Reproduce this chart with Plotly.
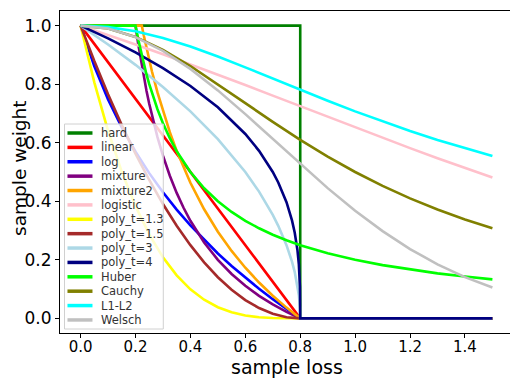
import plotly.graph_objects as go

# sample loss / sample weight curves (lambda = 0.8)
hard_x = [0, 0.8, 0.8, 1.5]
hard_y = [1, 1, 0, 0]

linear_x = [0, 0.8, 1.5]
linear_y = [1, 0, 0]

log_x = [0, 0.025, 0.05, 0.1, 0.15, 0.2, 0.25, 0.3, 0.35, 0.4, 0.45, 0.5, 0.55, 0.6, 0.65, 0.7, 0.75, 0.8, 1.5]
log_y = [1, 0.9269, 0.8614, 0.7481, 0.6523, 0.5693, 0.4961, 0.4307, 0.3715, 0.3174, 0.2677, 0.2216,
         0.1788, 0.1386, 0.1010, 0.0655, 0.0319, 0, 0]

mixture_x = [0, 0.2, 0.21, 0.22, 0.23, 0.24, 0.25, 0.265, 0.28, 0.3, 0.325, 0.35, 0.375, 0.4, 0.45, 0.5,
             0.55, 0.6, 0.65, 0.7, 0.75, 0.8, 1.5]
mixture_y = [1, 1, 0.9365, 0.8788, 0.8261, 0.7778, 0.7333, 0.6730, 0.6190, 0.5556, 0.4872, 0.4286, 0.3778,
             0.3333, 0.2593, 0.2, 0.1515, 0.1111, 0.0769, 0.0476, 0.0222, 0, 0]

mixture2_x = [0, 0.2229, 0.23, 0.24, 0.25, 0.26, 0.28, 0.3, 0.325, 0.35, 0.375, 0.4, 0.45, 0.5, 0.55, 0.6,
              0.65, 0.7, 0.75, 0.8, 1.5]
mixture2_y = [1, 1, 0.9671, 0.9232, 0.8820, 0.8432, 0.7718, 0.7077, 0.6361, 0.5723, 0.5150, 0.4631, 0.3727,
              0.2962, 0.2304, 0.1730, 0.1223, 0.0772, 0.0367, 0, 0]

wide_x = [0, 0.1, 0.2, 0.3, 0.4, 0.5, 0.6, 0.7, 0.8, 0.9, 1.0, 1.1, 1.2, 1.3, 1.4, 1.5]
logistic_y = [1, 0.9684, 0.9358, 0.9021, 0.8677, 0.8325, 0.7969, 0.7609, 0.7247, 0.6884, 0.6524, 0.6167,
              0.5816, 0.5472, 0.5136, 0.4809]
cauchy_y = [1, 0.9901, 0.9615, 0.9174, 0.8621, 0.8, 0.7353, 0.6711, 0.6098, 0.5525, 0.5, 0.4525, 0.4098,
            0.3717, 0.3378, 0.3077]
l1l2_y = [1, 0.9950, 0.9806, 0.9578, 0.9285, 0.8944, 0.8575, 0.8192, 0.7809, 0.7433, 0.7071, 0.6727,
          0.6402, 0.6097, 0.5812, 0.5547]
welsch_y = [1, 0.9900, 0.9608, 0.9139, 0.8521, 0.7788, 0.6977, 0.6126, 0.5273, 0.4449, 0.3679, 0.2982,
            0.2369, 0.1845, 0.1409, 0.1054]

poly_x = [0, 0.05, 0.1, 0.15, 0.2, 0.25, 0.3, 0.35, 0.4, 0.45, 0.5, 0.55, 0.6, 0.65, 0.7, 0.75, 0.8, 1.5]
poly13_y = [1, 0.8064, 0.6408, 0.5005, 0.3833, 0.2868, 0.2087, 0.1469, 0.0992, 0.0636, 0.0380, 0.0207,
            0.0098, 0.0038, 0.0010, 0.0001, 0, 0]
poly15_y = [1, 0.8789, 0.7656, 0.6602, 0.5625, 0.4727, 0.3906, 0.3164, 0.25, 0.1914, 0.1406, 0.0977,
            0.0625, 0.0352, 0.0156, 0.0039, 0, 0]

root_x = [0, 0.1, 0.2, 0.3, 0.4, 0.5, 0.6, 0.65, 0.7, 0.72, 0.75, 0.76, 0.77, 0.78, 0.79, 0.795, 0.799, 0.8, 1.5]
poly3_y = [1, 0.9354, 0.8660, 0.7906, 0.7071, 0.6124, 0.5, 0.4330, 0.3536, 0.3162, 0.25, 0.2236, 0.1936,
           0.1581, 0.1118, 0.0791, 0.0354, 0, 0]
poly4_y = [1, 0.9565, 0.9086, 0.8550, 0.7937, 0.7211, 0.6300, 0.5724, 0.5, 0.4642, 0.3969, 0.3684, 0.3347,
           0.2924, 0.2321, 0.1842, 0.1077, 0, 0]

huber_x = [0, 0.2, 0.21, 0.22, 0.23, 0.24, 0.25, 0.265, 0.28, 0.3, 0.325, 0.35, 0.375, 0.4, 0.45, 0.5, 0.55,
           0.6, 0.65, 0.7, 0.75, 0.8, 0.9, 1.0, 1.1, 1.2, 1.3, 1.4, 1.5]
huber_y = [1, 1, 0.9524, 0.9091, 0.8696, 0.8333, 0.8, 0.7547, 0.7143, 0.6667, 0.6154, 0.5714, 0.5333, 0.5,
           0.4444, 0.4, 0.3636, 0.3333, 0.3077, 0.2857, 0.2667, 0.25, 0.2222, 0.2, 0.1818, 0.1667, 0.1538,
           0.1429, 0.1333]

names = ["hard", "linear", "log", "mixture", "mixture2", "logistic", "poly_t=1.3", "poly_t=1.5",
         "poly_t=3", "poly_t=4", "Huber", "Cauchy", "L1-L2", "Welsch"]
colors = ["#008000", "#ff0000", "#0000ff", "#800080", "#ffa500", "#ffc0cb", "#ffff00", "#a52a2a",
          "#add8e6", "#000080", "#00ff00", "#808000", "#00ffff", "#c0c0c0"]
xs = [hard_x, linear_x, log_x, mixture_x, mixture2_x, wide_x, poly_x, poly_x,
      root_x, root_x, huber_x, wide_x, wide_x, wide_x]
ys = [hard_y, linear_y, log_y, mixture_y, mixture2_y, logistic_y, poly13_y, poly15_y,
      poly3_y, poly4_y, huber_y, cauchy_y, l1l2_y, welsch_y]

fig = go.Figure()
for name, color, x, y in zip(names, colors, xs, ys):
    fig.add_trace(go.Scatter(x=x, y=y, mode="lines", name=name,
                             line=dict(color=color, width=2.6), showlegend=False))

# legend drawn by hand so the rows sit as tight as in the original
shapes = [dict(type="rect", xref="paper", yref="paper", x0=0.0099, x1=0.228, y0=0.0124, y1=0.649,
               line=dict(color="#d0d0d0", width=1), fillcolor="rgba(255,255,255,0.8)", layer="above")]
annotations = []
for i, (name, color) in enumerate(zip(names, colors)):
    yy = 0.6211 - 0.04466 * i
    shapes.append(dict(type="line", xref="paper", yref="paper", x0=0.0165, x1=0.0717, y0=yy, y1=yy,
                       line=dict(color=color, width=3.5), layer="above"))
    annotations.append(dict(xref="paper", yref="paper", x=0.0871, y=yy, text=name, showarrow=False,
                            xanchor="left", yanchor="middle",
                            font=dict(family="DejaVu Sans", size=11.5, color="#333333")))

# axis titles
annotations.append(dict(xref="paper", yref="paper", x=0.5, y=-0.1056, text="sample loss", showarrow=False,
                        xanchor="center", yanchor="middle", font=dict(family="DejaVu Sans", size=19, color="black")))
annotations.append(dict(xref="paper", yref="paper", x=-0.0895, y=0.514, text="sample weight", showarrow=False,
                        textangle=-90, xanchor="center", yanchor="middle",
                        font=dict(family="DejaVu Sans", size=18.5, color="black")))

# the page body adds an 8px offset, so the figure is drawn 8px smaller than the window
fig.update_layout(
    width=510, height=371,
    margin=dict(l=51.5, r=5, t=3, b=46),
    paper_bgcolor="white", plot_bgcolor="white",
    font=dict(family="DejaVu Sans", color="black"),
    shapes=shapes, annotations=annotations,
)
fig.update_xaxes(range=[-0.075, 1.575], tickvals=[0, 0.2, 0.4, 0.6, 0.8, 1.0, 1.2, 1.4], tickformat=".1f",
                 showline=True, linecolor="black", linewidth=1, mirror=True, showgrid=False, zeroline=False,
                 ticks="outside", ticklen=4, tickcolor="black", tickfont=dict(size=15), automargin=False,
                 ticklabelstandoff=-4)
fig.update_yaxes(range=[-0.05, 1.05], tickvals=[0, 0.2, 0.4, 0.6, 0.8, 1.0], tickformat=".1f",
                 showline=True, linecolor="black", linewidth=1, mirror=True, showgrid=False, zeroline=False,
                 ticks="outside", ticklen=4, tickcolor="black", tickfont=dict(size=17), automargin=False)

fig.write_html("out.html")
